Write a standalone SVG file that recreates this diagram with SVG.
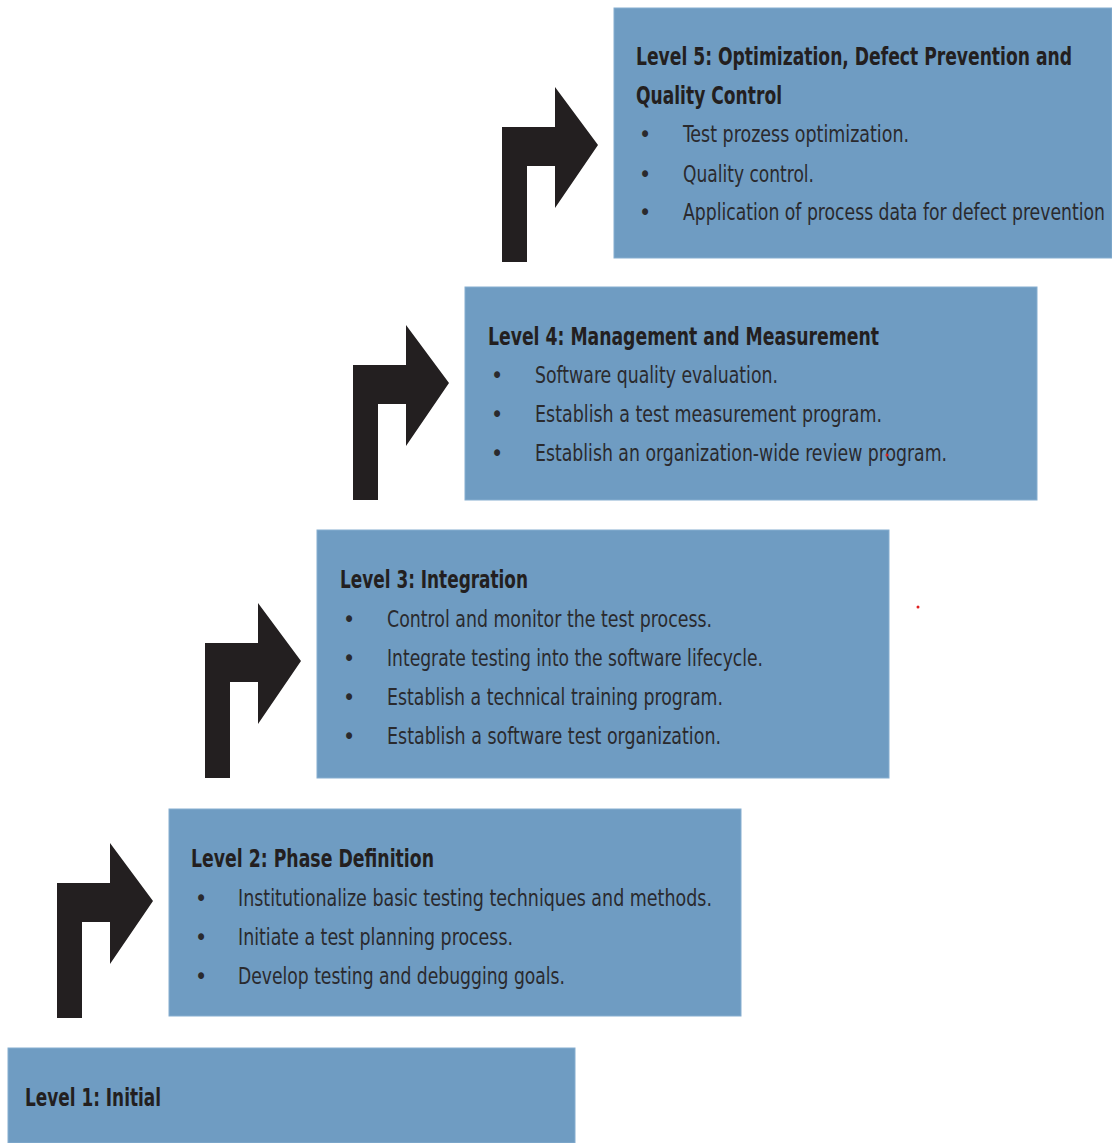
<svg xmlns="http://www.w3.org/2000/svg" width="1112" height="1143" viewBox="0 0 1112 1143">
<style>
.box{fill:#6f9cc2;stroke:#86aed0;stroke-width:1}
.t{font-family:"Liberation Sans Narrow","DejaVu Sans Condensed","Liberation Sans",sans-serif;font-weight:bold;font-size:24px;fill:#231f20}
.b{font-family:"Liberation Sans Narrow","DejaVu Sans Condensed","Liberation Sans",sans-serif;font-size:23px;fill:#2a2a2e}
.arrow{fill:#231f20}
</style>
<defs>
<path id="arr" d="M0,175 L0,40 L53,40 L53,0 L96,58 L53,121 L53,79 L25,79 L25,175 Z"/>
</defs>
<rect width="1112" height="1143" fill="#ffffff"/>
<g id="connectors">
<use href="#arr" class="arrow" x="57" y="843"/>
<use href="#arr" class="arrow" x="205" y="603"/>
<use href="#arr" class="arrow" x="353" y="325"/>
<use href="#arr" class="arrow" x="502" y="87"/>
</g>
<g id="level1">
<rect class="box" x="8" y="1048" width="567" height="95"/>
<text class="t" x="25" y="1106" textLength="136" lengthAdjust="spacingAndGlyphs">Level 1: Initial</text>
</g>
<g id="level2">
<rect class="box" x="169" y="809" width="572" height="207"/>
<text class="t" x="191" y="867" textLength="243" lengthAdjust="spacingAndGlyphs">Level 2: Phase Definition</text>
<text class="b" x="195" y="906">•</text>
<text class="b" x="238" y="906" textLength="474" lengthAdjust="spacingAndGlyphs">Institutionalize basic testing techniques and methods.</text>
<text class="b" x="195" y="945">•</text>
<text class="b" x="238" y="945" textLength="275" lengthAdjust="spacingAndGlyphs">Initiate a test planning process.</text>
<text class="b" x="195" y="984">•</text>
<text class="b" x="238" y="984" textLength="327" lengthAdjust="spacingAndGlyphs">Develop testing and debugging goals.</text>
</g>
<g id="level3">
<rect class="box" x="317" y="530" width="572" height="248"/>
<text class="t" x="340" y="588" textLength="188" lengthAdjust="spacingAndGlyphs">Level 3: Integration</text>
<text class="b" x="343" y="627">•</text>
<text class="b" x="387" y="627" textLength="325" lengthAdjust="spacingAndGlyphs">Control and monitor the test process.</text>
<text class="b" x="343" y="666">•</text>
<text class="b" x="387" y="666" textLength="376" lengthAdjust="spacingAndGlyphs">Integrate testing into the software lifecycle.</text>
<text class="b" x="343" y="705">•</text>
<text class="b" x="387" y="705" textLength="336" lengthAdjust="spacingAndGlyphs">Establish a technical training program.</text>
<text class="b" x="343" y="744">•</text>
<text class="b" x="387" y="744" textLength="334" lengthAdjust="spacingAndGlyphs">Establish a software test organization.</text>
</g>
<g id="level4">
<rect class="box" x="465" y="287" width="572" height="213"/>
<text class="t" x="488" y="345" textLength="391" lengthAdjust="spacingAndGlyphs">Level 4: Management and Measurement</text>
<text class="b" x="491" y="383">•</text>
<text class="b" x="535" y="383" textLength="243" lengthAdjust="spacingAndGlyphs">Software quality evaluation.</text>
<text class="b" x="491" y="422">•</text>
<text class="b" x="535" y="422" textLength="347" lengthAdjust="spacingAndGlyphs">Establish a test measurement program.</text>
<text class="b" x="491" y="461">•</text>
<text class="b" x="535" y="461" textLength="412" lengthAdjust="spacingAndGlyphs">Establish an organization-wide review program.</text>
</g>
<g id="level5">
<rect class="box" x="614" y="8" width="498" height="250"/>
<text class="t" x="636" y="65" textLength="436" lengthAdjust="spacingAndGlyphs">Level 5: Optimization, Defect Prevention and</text>
<text class="t" x="636" y="104" textLength="146" lengthAdjust="spacingAndGlyphs">Quality Control</text>
<text class="b" x="639" y="142">•</text>
<text class="b" x="683" y="142" textLength="226" lengthAdjust="spacingAndGlyphs">Test prozess optimization.</text>
<text class="b" x="639" y="182">•</text>
<text class="b" x="683" y="182" textLength="131" lengthAdjust="spacingAndGlyphs">Quality control.</text>
<text class="b" x="639" y="220">•</text>
<text class="b" x="683" y="220" textLength="422" lengthAdjust="spacingAndGlyphs">Application of process data for defect prevention</text>
</g>
<circle cx="918" cy="607" r="1.5" fill="#e02020"/>
<circle cx="887" cy="455" r="1.5" fill="#e02020"/>
</svg>
